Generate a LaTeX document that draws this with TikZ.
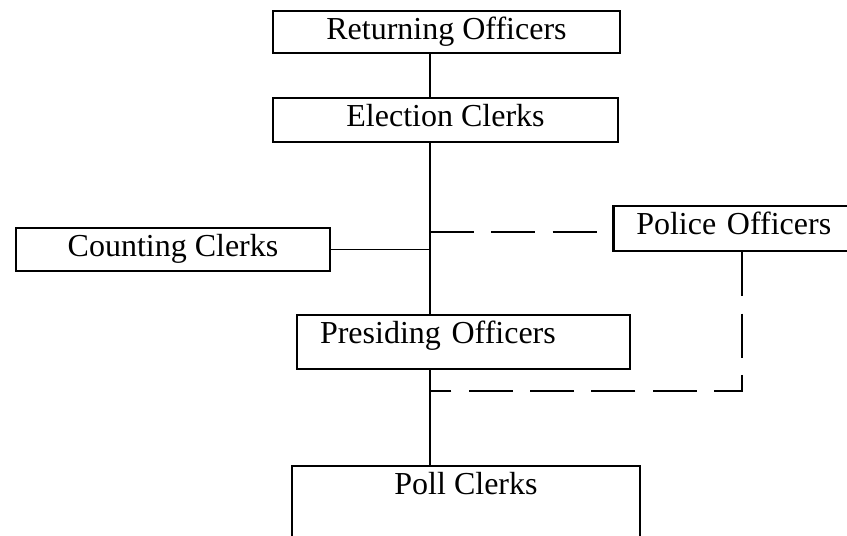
\documentclass[tikz,border=0pt]{standalone}
\usepackage{fontspec}
\setmainfont{Liberation Serif}
\usetikzlibrary{calc}

\begin{document}
\begin{tikzpicture}[x=0.75pt,y=-0.75pt,
  post/.style={draw,line width=1.9pt,inner sep=0pt,text height=21.5pt,font=\fontsize{24}{28}\selectfont},
  link/.style={line width=1.1pt},
  dashlink/.style={line width=1.1pt,dash pattern=on 33pt off 13pt}]

  \useasboundingbox (0,0) rectangle (847,536);
  \clip (0,0) rectangle (847,536);

  \coordinate (spine) at (430,0);
  \coordinate (tap) at (430,232);
  \coordinate (bend) at (742,391);

  \draw (446.5,32) node (ret) [post,minimum width=260pt,text depth=10pt] {Returning Officers};
  \draw (445.5,120) node (elec) [post,minimum width=258.75pt,text depth=11.5pt] {Election Clerks};
  \draw (173,249.5) node (count) [post,minimum width=235.5pt,text depth=10.75pt] {Counting Clerks};
  \draw (612,228.5) node (police) [post,anchor=west,inner xsep=17.25pt,text width=200pt,align=left,text depth=12.25pt] {Police Officers};
  \draw (463.5,342) node (pres) [post,inner xsep=17.25pt,text width=215.25pt,align=left,text depth=19pt] {Presiding Officers};
  \draw (466,526) node (poll) [post,minimum width=261pt,text depth=68.5pt] {Poll Clerks};

  \draw[link] (ret.south -| spine) -- (elec.north -| spine);
  \draw[link] (elec.south -| spine) -- (pres.north -| spine);
  \draw[link] (pres.south -| spine) -- (poll.north -| spine);
  \draw[link] (count.east) -- (count.east -| spine);

  \draw[dashlink] (tap) -- (tap -| police.west);
  \draw[dashlink] (police.south -| bend) -- (bend) -- (bend -| spine);

\end{tikzpicture}
\end{document}
